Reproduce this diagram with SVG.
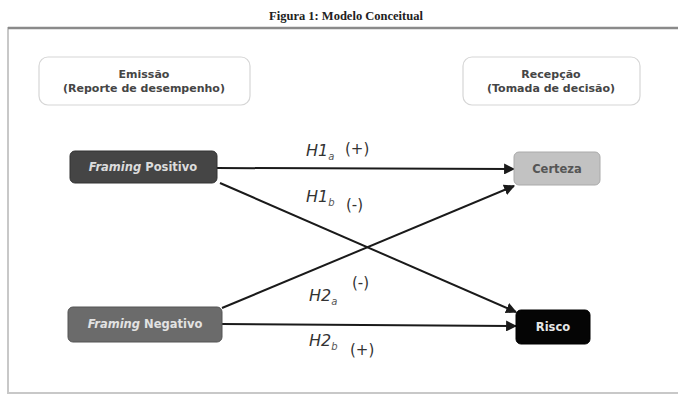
<svg xmlns="http://www.w3.org/2000/svg" width="678" height="396" viewBox="0 0 678 396">
  <style>
    .title { font-family: "Liberation Serif", "Times New Roman", serif; font-weight: bold; font-size: 12.5px; fill: #222; }
    .hdr { font-family: "DejaVu Sans", Verdana, sans-serif; font-weight: bold; font-size: 11px; fill: #454545; text-anchor: middle; }
    .nlab { font-family: "DejaVu Sans", Verdana, sans-serif; font-weight: bold; font-size: 11.5px; text-anchor: middle; }
    .hyp { font-family: "DejaVu Sans", Verdana, sans-serif; font-style: italic; font-size: 16px; fill: #333; }
    .sub { font-size: 10px; fill: #555; }
    .sign { font-family: "DejaVu Sans", Verdana, sans-serif; font-size: 15px; fill: #333; }
    .edge { stroke: #1a1a1a; stroke-width: 2; fill: none; marker-end: url(#arrow); }
  </style>
  <defs>
    <marker id="arrow" viewBox="0 0 10 10" refX="9" refY="5" markerWidth="5.5" markerHeight="5.5" orient="auto" markerUnits="strokeWidth">
      <path d="M0,0 L10,5 L0,10 Z" fill="#1a1a1a"/>
    </marker>
  </defs>

  <rect width="678" height="396" fill="#ffffff"/>

  <!-- figure caption and frame -->
  <text class="title" x="346" y="20" text-anchor="middle">Figura 1: Modelo Conceitual</text>
  <rect x="8" y="28" width="680" height="365" fill="none" stroke="#c8c8c8" stroke-width="2"/>
  <line x1="8" y1="28" x2="678" y2="28" stroke="#8a8a8a" stroke-width="2.5"/>

  <!-- column headers -->
  <g id="emissao">
    <rect x="39" y="57" width="211" height="48" rx="9" fill="#ffffff" stroke="#d6d6d6" stroke-width="1.2"/>
    <text class="hdr" x="144" y="78">Emissão</text>
    <text class="hdr" x="144" y="92">(Reporte de desempenho)</text>
  </g>
  <g id="recepcao">
    <rect x="463" y="57" width="177" height="48" rx="9" fill="#ffffff" stroke="#d6d6d6" stroke-width="1.2"/>
    <text class="hdr" x="551" y="78">Recepção</text>
    <text class="hdr" x="551" y="92">(Tomada de decisão)</text>
  </g>

  <!-- connectors -->
  <g id="connectors">
    <line class="edge" x1="217" y1="168" x2="514" y2="169"/>
    <line class="edge" x1="220" y1="183" x2="516" y2="312"/>
    <line class="edge" x1="222" y1="308" x2="514" y2="186"/>
    <line class="edge" x1="222" y1="324" x2="516" y2="326"/>
  </g>

  <!-- hypothesis labels -->
  <g id="labels">
    <text class="hyp" x="306" y="156">H1<tspan class="sub" dy="4">a</tspan></text>
    <text class="sign" x="345" y="154">(+)</text>
    <text class="hyp" x="306" y="202">H1<tspan class="sub" dy="4">b</tspan></text>
    <text class="sign" x="346" y="210">(-)</text>
    <text class="hyp" x="309" y="301">H2<tspan class="sub" dy="4">a</tspan></text>
    <text class="sign" x="352" y="288">(-)</text>
    <text class="hyp" x="309" y="346">H2<tspan class="sub" dy="4">b</tspan></text>
    <text class="sign" x="350" y="355">(+)</text>
  </g>

  <!-- nodes -->
  <g id="framing-positivo">
    <rect x="70" y="151" width="147" height="32" rx="5" fill="#454545" stroke="#333" stroke-width="1"/>
    <text class="nlab" x="143" y="171" fill="#dcdcdc"><tspan font-style="italic">Framing</tspan> Positivo</text>
  </g>
  <g id="framing-negativo">
    <rect x="68" y="307" width="154" height="35" rx="5" fill="#6b6b6b" stroke="#555" stroke-width="1"/>
    <text class="nlab" x="145" y="328" fill="#e2e2e2"><tspan font-style="italic">Framing</tspan> Negativo</text>
  </g>
  <g id="certeza">
    <rect x="514" y="152" width="86" height="33" rx="5" fill="#c2c2c2" stroke="#aaaaaa" stroke-width="1"/>
    <text class="nlab" x="557" y="173" fill="#555">Certeza</text>
  </g>
  <g id="risco">
    <rect x="516" y="310" width="74" height="34" rx="5" fill="#050505" stroke="#000" stroke-width="1"/>
    <text class="nlab" x="553" y="331" fill="#e6e6e6" font-size="12px">Risco</text>
  </g>
</svg>
